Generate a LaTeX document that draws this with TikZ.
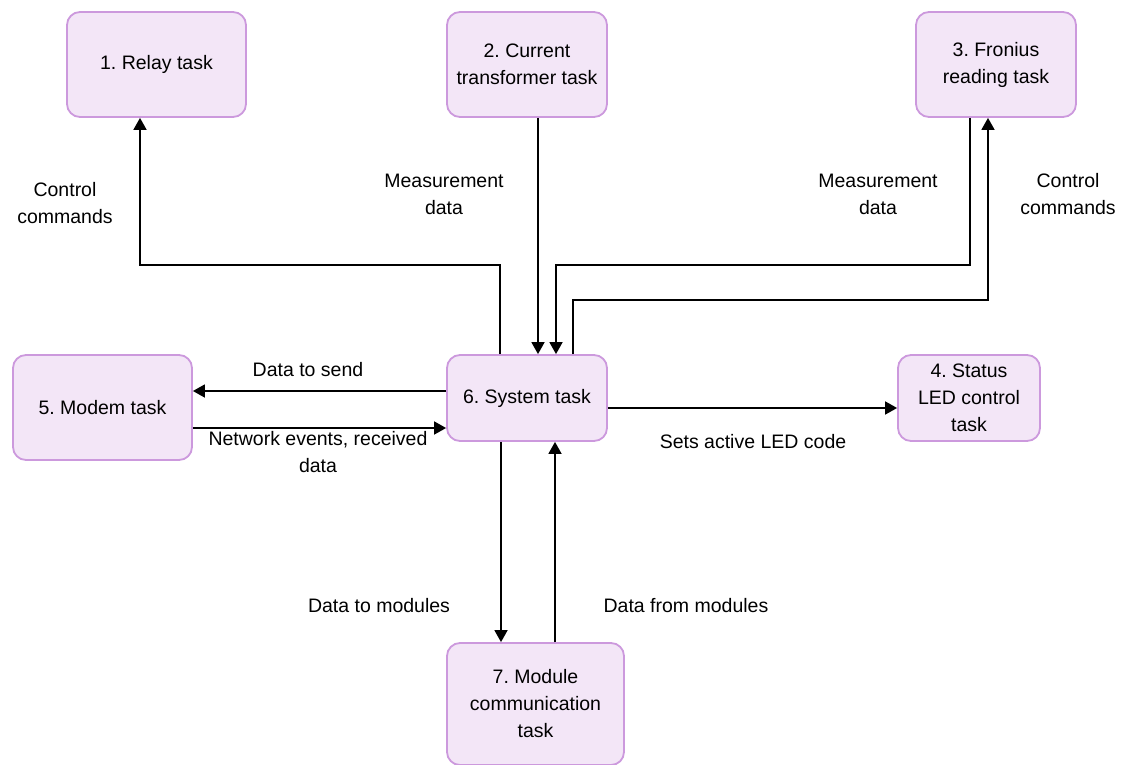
\documentclass[tikz,border=0pt]{standalone}
\usepackage{fontspec}
\setmainfont{Liberation Sans}
\usetikzlibrary{arrows.meta}
\definecolor{taskfill}{HTML}{F3E6F7}
\definecolor{taskdraw}{HTML}{CC99DD}
\frenchspacing
\begin{document}
\begin{tikzpicture}[x=1pt,y=-1pt,
  font=\fontsize{19.5}{27}\selectfont,
  task/.style={draw=taskdraw,fill=taskfill,line width=1.8pt,rounded corners=13pt,
    align=center,inner sep=2pt},
  arr/.style={line width=1.7pt,-{Triangle[width=13pt,length=12pt]}},
  lbl/.style={align=center}]
\useasboundingbox (0,0) rectangle (1121,765);

% task boxes
\node[task,minimum width=179pt,minimum height=105pt] (rel) at (156.5,64.5) {1. Relay task};
\node[task,minimum width=160pt,minimum height=105pt] (cur) at (527,64.5) {2. Current\\transformer task};
\node[task,minimum width=160pt,minimum height=105pt] (fro) at (996,64.5) {3. Fronius\\reading task};
\node[task,minimum width=179pt,minimum height=105pt] (mod) at (102.5,407.5) {5. Modem task};
\node[task,minimum width=160pt,minimum height=86pt] (sys) at (527,398) {6. System task};
\node[task,minimum width=142pt,minimum height=86pt] (led) at (969,398) {4. Status\\LED control\\task};
\node[task,minimum width=177pt,minimum height=122pt] (mcm) at (535.5,704) {7. Module\\communication\\task};

% connector end points on the box borders
\coordinate (sysRel) at ([xshift=-27pt]sys.north);
\coordinate (relIn) at ([xshift=-16.5pt]rel.south);
\coordinate (curOut) at ([xshift=11pt]cur.south);
\coordinate (sysCur) at ([xshift=11pt]sys.north);
\coordinate (froOut) at ([xshift=-26pt]fro.south);
\coordinate (sysFro) at ([xshift=29pt]sys.north);
\coordinate (sysCtl) at ([xshift=46pt]sys.north);
\coordinate (froIn) at ([xshift=-8pt]fro.south);
\coordinate (sysSend) at ([yshift=7pt]sys.west);
\coordinate (modIn) at (mod.east |- sysSend);
\coordinate (sysRecv) at ([yshift=-30pt]sys.west);
\coordinate (modOut) at (mod.east |- sysRecv);
\coordinate (sysLed) at ([yshift=-10pt]sys.east);
\coordinate (ledIn) at (led.west |- sysLed);
\coordinate (sysDown) at ([xshift=-26pt]sys.south);
\coordinate (mcmIn) at (mcm.north -| sysDown);
\coordinate (sysUp) at ([xshift=28pt]sys.south);
\coordinate (mcmOut) at (mcm.north -| sysUp);

% connectors
\draw[arr] (sysRel) |- (relIn |- 0,265) -- (relIn);
\draw[arr] (curOut) -- (sysCur);
\draw[arr] (froOut) |- (sysFro |- 0,265) -- (sysFro);
\draw[arr] (sysCtl) |- (froIn |- 0,300) -- (froIn);
\draw[arr] (sysSend) -- (modIn);
\draw[arr] (modOut) -- (sysRecv);
\draw[arr] (sysLed) -- (ledIn);
\draw[arr] (sysDown) -- (mcmIn);
\draw[arr] (mcmOut) -- (sysUp);

% connector labels
\node[lbl] (lCtlL) at (65,203) {Control\\commands};
\node[lbl] (lMeasC) at (444,194) {Measurement\\data};
\node[lbl] (lMeasF) at (878,194) {Measurement\\data};
\node[lbl] (lCtlR) at (1068,194) {Control\\commands};
\node[lbl] (lSend) at (308,370) {Data to send};
\node[lbl] (lRecv) at (318,452) {Network events, received\\data};
\node[lbl] (lLed) at (753,442) {Sets active LED code};
\node[lbl] (lToMod) at (379,606) {Data to modules};
\node[lbl] (lFromMod) at (686,606) {Data from modules};
\end{tikzpicture}
\end{document}
